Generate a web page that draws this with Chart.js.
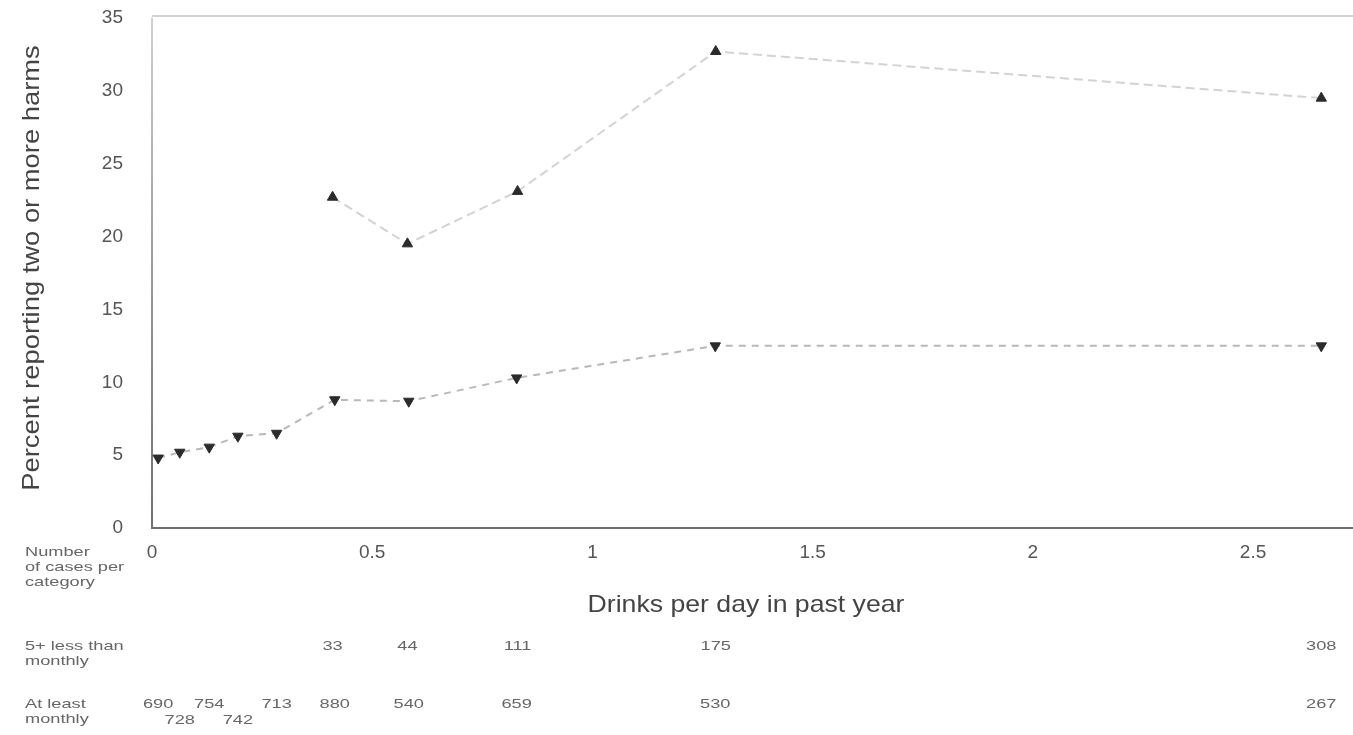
<!DOCTYPE html>
<html>
<head>
<meta charset="utf-8">
<script src="https://cdn.jsdelivr.net/npm/chart.js@4.4.1/dist/chart.umd.min.js"></script>
<style>
  html, body { margin: 0; padding: 0; background: #fff; }
  #wrap { width: 1353px; height: 735px; position: relative; }
</style>
</head>
<body>
<div id="wrap"><canvas id="c"></canvas></div>
<script>
// Drinks per day (x) and percent reporting two or more harms (y)
const lessMonthlyX = [0.41, 0.58, 0.83, 1.28, 2.655];
const lessMonthlyY = [22.7, 19.5, 23.1, 32.7, 29.5];
const atLeastX = [0.014, 0.063, 0.13, 0.195, 0.283, 0.415, 0.583, 0.828, 1.279, 2.655];
const atLeastY = [4.8, 5.2, 5.55, 6.3, 6.5, 8.8, 8.7, 10.3, 12.5, 12.5];

// Number of cases per category
const lessMonthlyN = [33, 44, 111, 175, 308];
const atLeastN = [690, 728, 754, 742, 713, 880, 540, 659, 530, 267];

const xTicks = [0, 0.5, 1, 1.5, 2, 2.5];
const yTicks = [0, 5, 10, 15, 20, 25, 30, 35];

const xTitle = 'Drinks per day in past year';
const yTitle = 'Percent reporting two or more harms';
const rowLabels = [
  ['Number', 'of cases per', 'category'],
  ['5+ less than', 'monthly'],
  ['At least', 'monthly']
];

const FONT = '"Liberation Sans", Arial, sans-serif';
const TEXT = '#555';

const toPts = (xs, ys) => xs.map((x, i) => ({ x, y: ys[i] }));

// text drawn with a horizontal stretch factor
function wideText(ctx, text, x, y, sx, align) {
  ctx.save();
  ctx.translate(x, y);
  ctx.scale(sx, 1);
  ctx.textAlign = align;
  ctx.fillText(text, 0, 0);
  ctx.restore();
}

const decor = {
  id: 'decor',
  beforeDatasetsDraw(chart) {
    const { ctx, chartArea } = chart;
    ctx.save();
    // light rule along the top of the plot
    ctx.strokeStyle = '#d2d2d2';
    ctx.lineWidth = 2;
    ctx.beginPath();
    ctx.moveTo(chartArea.left, chartArea.top - 2);
    ctx.lineTo(chartArea.right, chartArea.top - 2);
    ctx.stroke();
    // vertical axis, fading toward the top
    const g = ctx.createLinearGradient(0, chartArea.top, 0, chartArea.bottom);
    g.addColorStop(0, '#d0d0d0');
    g.addColorStop(0.5, '#9a9a9a');
    g.addColorStop(1, '#707070');
    ctx.strokeStyle = g;
    ctx.lineWidth = 2;
    ctx.beginPath();
    ctx.moveTo(chartArea.left, chartArea.top);
    ctx.lineTo(chartArea.left, chartArea.bottom);
    ctx.stroke();
    ctx.restore();
  },
  afterDraw(chart) {
    const { ctx } = chart;
    const xs = chart.scales.x;
    ctx.save();
    // axis titles
    ctx.fillStyle = '#444';
    ctx.font = '24px ' + FONT;
    ctx.textBaseline = 'middle';
    wideText(ctx, xTitle, 746, 605, 1.11, 'center');
    ctx.save();
    ctx.translate(32, 268);
    ctx.rotate(-Math.PI / 2);
    wideText(ctx, yTitle, 0, 0, 1.14, 'center');
    ctx.restore();

    // table of case counts
    ctx.fillStyle = '#666';
    ctx.font = '13px ' + FONT;
    const rowTops = [552, 646, 704];
    rowLabels.forEach((lines, r) => {
      lines.forEach((t, j) => wideText(ctx, t, 25, rowTops[r] + j * 15, 1.4, 'left'));
    });
    lessMonthlyN.forEach((n, i) => {
      const px = Math.min(xs.getPixelForValue(lessMonthlyX[i]), 1335);
      wideText(ctx, String(n), px, 646, 1.4, 'center');
    });
    atLeastN.forEach((n, i) => {
      const stagger = (i === 1 || i === 3) ? 16 : 0;
      const px = Math.min(xs.getPixelForValue(atLeastX[i]), 1337);
      wideText(ctx, String(n), px, 704 + stagger, 1.4, 'center');
    });
    ctx.restore();
  }
};

new Chart(document.getElementById('c'), {
  type: 'scatter',
  data: {
    datasets: [
      {
        label: '5+ less than monthly',
        data: toPts(lessMonthlyX, lessMonthlyY),
        showLine: true,
        borderColor: '#d3d3d3',
        borderWidth: 2,
        borderDash: [9, 5],
        pointStyle: 'triangle',
        pointRadius: 6,
        pointBackgroundColor: '#2b2b2b',
        pointBorderColor: '#2b2b2b',
        pointBorderWidth: 1
      },
      {
        label: 'At least monthly',
        data: toPts(atLeastX, atLeastY),
        showLine: true,
        borderColor: '#b8b8b8',
        borderWidth: 2,
        borderDash: [7, 6],
        pointStyle: 'triangle',
        rotation: 180,
        pointRadius: 6,
        pointBackgroundColor: '#2b2b2b',
        pointBorderColor: '#2b2b2b',
        pointBorderWidth: 1
      }
    ]
  },
  options: {
    responsive: true,
    maintainAspectRatio: false,
    animation: false,
    layout: { autoPadding: false, padding: { top: 18, right: 0, left: 0, bottom: 0 } },
    plugins: { legend: { display: false }, tooltip: { enabled: false } },
    scales: {
      x: {
        type: 'linear',
        min: 0,
        max: 2.727,
        afterFit(s) { s.height = 207; s.paddingLeft = 0; s.paddingRight = 0; },
        afterBuildTicks(s) { s.ticks = xTicks.map(v => ({ value: v })); },
        grid: { display: false, drawTicks: false },
        border: { display: true, color: '#6e6e6e', width: 2 },
        ticks: {
          padding: 13,
          color: TEXT,
          font: { family: FONT, size: 19 },
          callback: v => String(v)
        }
      },
      y: {
        type: 'linear',
        min: 0,
        max: 35,
        afterFit(s) { s.width = 152; s.paddingTop = 0; s.paddingBottom = 0; },
        afterBuildTicks(s) { s.ticks = yTicks.map(v => ({ value: v })); },
        grid: { display: false, drawTicks: false },
        border: { display: false },
        ticks: {
          padding: 29,
          color: TEXT,
          font: { family: FONT, size: 19 },
          callback: v => String(v)
        }
      }
    }
  },
  plugins: [decor]
});
</script>
</body>
</html>
